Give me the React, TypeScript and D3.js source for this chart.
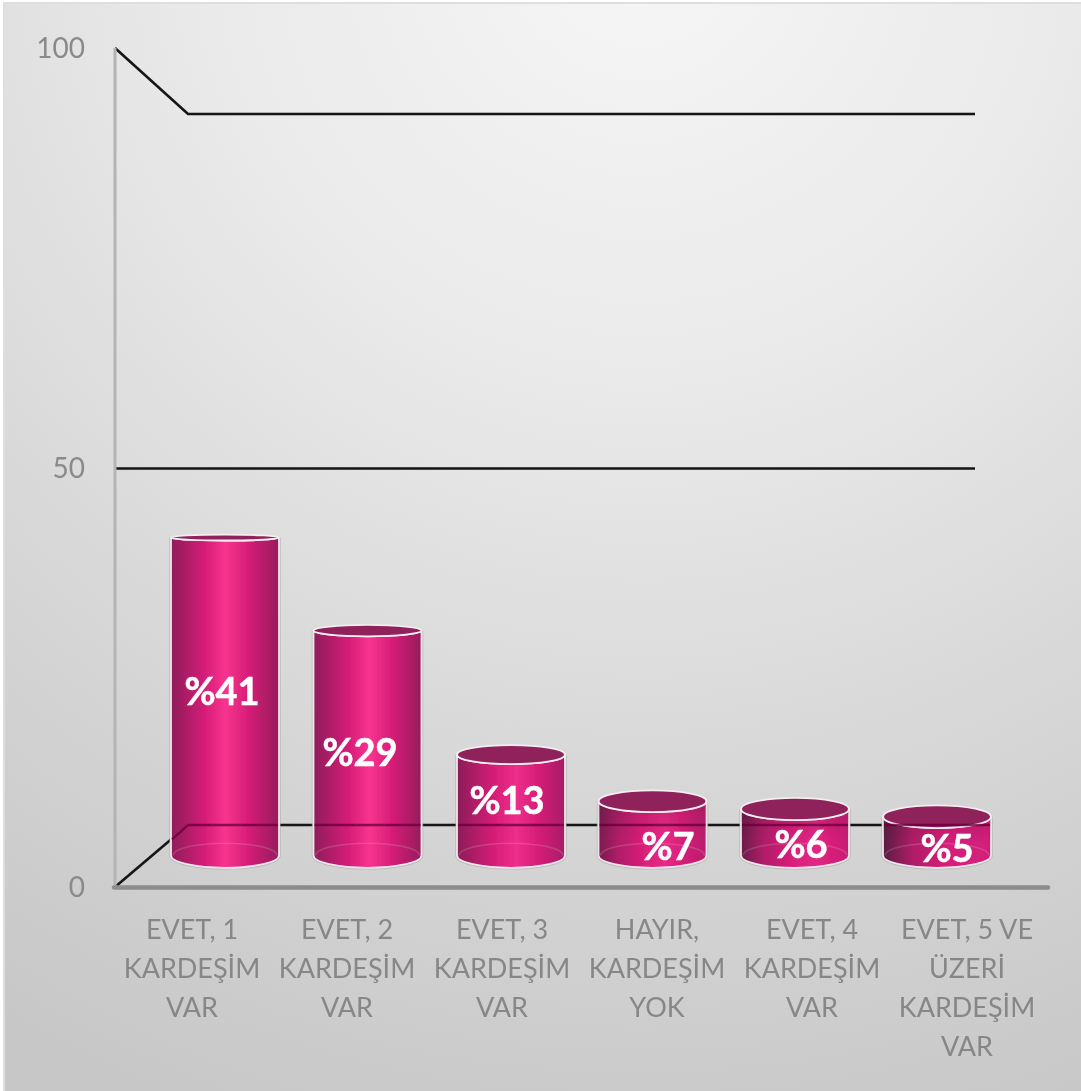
import React from "react";
import * as d3 from "d3";

const categories = [
  ["EVET, 1", "KARDEŞİM", "VAR"],
  ["EVET, 2", "KARDEŞİM", "VAR"],
  ["EVET, 3", "KARDEŞİM", "VAR"],
  ["HAYIR,", "KARDEŞİM", "YOK"],
  ["EVET, 4", "KARDEŞİM", "VAR"],
  ["EVET, 5 VE", "ÜZERİ", "KARDEŞİM", "VAR"],
];
const values = [41, 29, 13, 7, 6, 5];
const valueLabels = ["%41", "%29", "%13", "%7", "%6", "%5"];
const barCenters = [225, 367.5, 511, 652.5, 795, 937];
const labelX = [222, 360, 507, 668, 801, 947];
const labelY = [691, 752, 800, 846, 844, 848];
const highlights = [0.5, 0.52, 0.55, 0.62, 0.7, 0.92];
const peaks = ["#f8348f", "#f8348f", "#ee2e8b", "#e62a86", "#e12885", "#d2207c"];
const edgesL = ["#8f1f5b", "#8f1f5b", "#8a1f59", "#7a1d50", "#6a1c49", "#5a1c42"];
const edgesR = ["#961f5c", "#961f5c", "#a81f66", "#b81f6c", "#c81f75", "#cc1e74"];
const ticks = [0, 50, 100];

const W = 1081, H = 1091;
const font = "Lato, Carlito, Calibri, sans-serif";

const yFront = d3.scaleLinear().domain([0, 100]).range([887, 48]);
const yBack = d3.scaleLinear().domain([0, 100]).range([825, 114]);
const yMid = d3.scaleLinear().domain([0, 100]).range([855.5, 80]);
const xLabel = d3.scalePoint<number>().domain(d3.range(6)).range([192, 967]);
const ryAt = (y: number) => Math.min(12.3, 3 + (y - 539) * 0.03);

export default function App() {
  const bw = 108;
  const bars = values.map((v, i) => {
    const cx = barCenters[i];
    const top = yMid(v), bottom = yMid(0);
    const rt = ryAt(top), rb = ryAt(bottom);
    const l = cx - bw / 2, r = cx + bw / 2;
    const side = `M${l},${top}L${l},${bottom}A${bw / 2},${rb} 0 0 0 ${r},${bottom}L${r},${top}A${bw / 2},${rt} 0 0 1 ${l},${top}Z`;
    return { v, i, cx, top, bottom, rt, rb, l, r, side };
  });
  return (
    <svg width={W} height={H} viewBox={`0 0 ${W} ${H}`} style={{ position: "absolute", left: 0, top: 0, background: "#fff" }}>
      <defs>
        <radialGradient id="bg" gradientUnits="userSpaceOnUse" cx="640" cy="-60" r="1250">
          <stop offset="0" stopColor="#f6f6f6" />
          <stop offset="0.35" stopColor="#eaeaea" />
          <stop offset="0.7" stopColor="#d6d6d6" />
          <stop offset="1" stopColor="#c7c7c7" />
        </radialGradient>
        {highlights.map((h, i) => (
          <linearGradient key={i} id={`bar${i}`} x1="0" x2="1" y1="0" y2="0">
            <stop offset="0" stopColor={edgesL[i]} />
            <stop offset={h * 0.3} stopColor="#b01f68" />
            <stop offset={h * 0.66} stopColor="#d91f79" />
            <stop offset={h} stopColor={peaks[i]} />
            <stop offset={Math.min(0.98, h + (1 - h) * 0.4)} stopColor="#d91f79" />
            <stop offset="1" stopColor={edgesR[i]} />
          </linearGradient>
        ))}
        <linearGradient id="shade" x1="0" x2="0" y1="0" y2="1">
          <stop offset="0" stopColor="#000" stopOpacity="0.15" />
          <stop offset="0.55" stopColor="#000" stopOpacity="0" />
        </linearGradient>
        <filter id="soft" x="-2%" y="-2%" width="104%" height="104%">
          <feGaussianBlur stdDeviation="0.45" />
        </filter>
      </defs>

      <rect x={4} y={3} width={W} height={H} fill="url(#bg)" stroke="#dedede" strokeWidth={2} />

      <g filter="url(#soft)">
        {ticks.filter((t) => t !== 50).map((t) => (
          <polyline key={t} fill="none" stroke="#141414" strokeWidth={2.6}
            points={`115,${yFront(t)} 188,${yBack(t)} 975,${yBack(t)}`} />
        ))}
        <line x1={115} x2={975} y1={468.5} y2={468.5} stroke="#141414" strokeWidth={2.6} />
        <line x1={115} x2={115} y1={yFront(100)} y2={yFront(0)} stroke="#b4b4b4" strokeWidth={3} />
        <line x1={114} x2={1048} y1={887.5} y2={887.5} stroke="#8c8c8c" strokeWidth={4.5} strokeLinecap="round" />

        {ticks.map((t) => (
          <text key={t} x={85} y={yFront(t)} dy="0.36em" textAnchor="end" fontFamily={font} fontSize={28} fill="#8a8a8a">{t}</text>
        ))}

        {bars.map((b) => (
          <g key={b.i}>
            <path d={b.side} fill="none" stroke="#a8a8a8" strokeOpacity={0.55} strokeWidth={3.6} />
            <path d={b.side} fill={`url(#bar${b.i})`} stroke="#f0e6ea" strokeWidth={1.8} />
            <path d={b.side} fill="url(#shade)" opacity={b.v < 10 ? 0.8 : 0} />
            <path d={`M${b.l + 2},${b.bottom}A${bw / 2 - 2},${b.rb} 0 0 1 ${b.r - 2},${b.bottom}`} fill="none" stroke="#ffffff" strokeOpacity={0.14} strokeWidth={1.5} />
            <ellipse cx={b.cx} cy={b.top} rx={bw / 2} ry={b.rt} fill="#8f205a" stroke="#f4eef0" strokeWidth={1.8} />
          </g>
        ))}
        {bars.map((b) => (
          <line key={b.i} x1={b.i === 0 ? 188 : b.l + 1} x2={b.r - 1} y1={yBack(0)} y2={yBack(0)} stroke="#6d0040" strokeOpacity={0.8} strokeWidth={2.4} />
        ))}
        <line x1={172} y1={839.5} x2={188} y2={825} stroke="#6d0040" strokeOpacity={0.8} strokeWidth={2.4} />

        {bars.map((b) => (
          <text key={b.i} x={labelX[b.i]} y={labelY[b.i]} dy="0.36em" textAnchor="middle"
            fontFamily={font} fontWeight={700} fontSize={38} fill="#fff" stroke="#fff" strokeWidth={0.5}>{valueLabels[b.i]}</text>
        ))}

        {categories.map((lines, i) => (
          <text key={i} textAnchor="middle" fontFamily={font} fontSize={27} fill="#878787">
            {lines.map((s, j) => (
              <tspan key={j} x={xLabel(i)} y={929 + j * 39} dy="0.36em">{s}</tspan>
            ))}
          </text>
        ))}
      </g>
    </svg>
  );
}
